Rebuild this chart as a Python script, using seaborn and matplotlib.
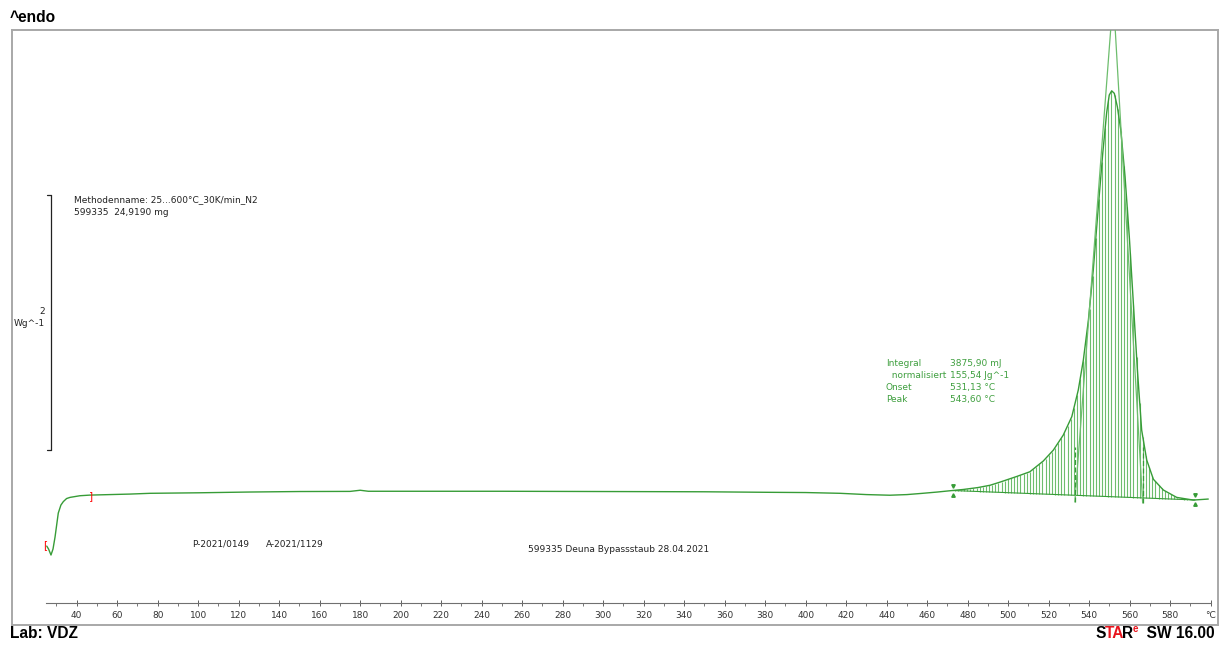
import numpy as np
import pandas as pd
import matplotlib
matplotlib.use("Agg")
import matplotlib.pyplot as plt
import seaborn as sns

# ---- DSC measurement: sample temperature (°C) vs. specific heat flow (W/g, endo up)
temperature = [25.2, 26.1, 27.3, 28.3, 29.3, 30.9, 32.2, 33.4, 35.0, 36.7,
               41.6, 46.6, 66.3, 76.2, 100.0, 125.0, 150.0, 175.0, 180.0, 184.0,
               200.0, 250.0, 300.0, 350.0, 380.0, 400.0, 417.0, 430.0, 441.5, 450.0,
               457.8, 465.0, 471.2, 477.8, 485.0, 491.0, 496.0, 504.2, 510.7, 517.3,
               522.3, 527.2, 531.4, 534.6, 537.1, 539.6, 542.0, 544.5, 546.7, 548.6,
               549.9, 551.1, 552.4, 553.9, 555.6, 557.7, 559.8, 561.8, 563.8, 565.9,
               568.4, 571.7, 576.6, 583.2, 591.4, 598.8]
heat_flow = [-0.424, -0.447, -0.494, -0.447, -0.353, -0.165, -0.102, -0.075, -0.051, -0.042,
             -0.029, -0.024, -0.016, -0.010, -0.006, 0.000, 0.004, 0.005, 0.014, 0.006,
             0.006, 0.006, 0.004, 0.002, -0.002, -0.004, -0.010, -0.020, -0.025, -0.020,
             -0.010, 0.000, 0.010, 0.020, 0.035, 0.053, 0.078, 0.122, 0.159, 0.243,
             0.329, 0.447, 0.591, 0.800, 1.035, 1.349, 1.741, 2.238, 2.659, 2.973,
             3.114, 3.147, 3.127, 3.022, 2.839, 2.473, 2.002, 1.482, 0.957, 0.486,
             0.251, 0.100, 0.016, -0.042, -0.063, -0.055]

# Peak integration limits (°C) and tangent construction (°C, W/g)
integration_limits = [472.5, 592.2]
left_tangent_T = [532.9, 551.2]
left_tangent_W = [-0.078, 3.75]
right_tangent_T = [566.4, 552.4]
right_tangent_W = [-0.086, 3.75]

# Evaluation texts
method_lines = ["Methodenname: 25...600°C_30K/min_N2", "599335  24,9190 mg"]
result_names = ["Integral", "  normalisiert", "Onset", "Peak"]
result_values = ["3875,90 mJ", "155,54 Jg^-1", "531,13 °C", "543,60 °C"]
scale_value = 2.0  # W/g

x_major = list(range(40, 601, 20))
x_minor = list(range(30, 600, 20))
x_labels = [str(t) for t in x_major[:-1]] + ["°C"]

df = pd.DataFrame({"T": temperature, "W": heat_flow})

W_PX, H_PX = 1223, 646
GREEN = "#379c37"
GREEN_LIGHT = "#6dbd6d"
TXT_GREEN = "#3f9f3f"

sns.set_theme(style="white")
plt.rcParams["font.family"] = ["DejaVu Sans"]

fig = plt.figure(figsize=(W_PX / 100, H_PX / 100), dpi=100)
fig.patch.set_facecolor("white")


def fx(x):
    return x / W_PX


def fy(y):
    return 1 - y / H_PX


pos = [fx(11.5), fy(624.5), fx(1218) - fx(11.5), fy(30) - fy(624.5)]

# outer grey frame
frame = fig.add_axes(pos, zorder=0)
frame.set_xticks([])
frame.set_yticks([])
for s in frame.spines.values():
    s.set_color("#a8a8a8")
    s.set_linewidth(1.4)

ax = fig.add_axes(pos, zorder=1)
ax.set_facecolor("none")
ax.set_xlim(7.8, 603.6)
ax.set_ylim(-1.039, 3.624)

# curve
sns.lineplot(data=df, x="T", y="W", ax=ax, color=GREEN, linewidth=1.0,
             sort=False, estimator=None)

# integration baseline and hatching
T_arr = np.asarray(temperature)
W_arr = np.asarray(heat_flow)
t0, t1 = integration_limits
b0, b1 = np.interp(t0, T_arr, W_arr), np.interp(t1, T_arr, W_arr)
ax.plot([t0, t1], [b0, b1], color=GREEN, lw=0.8)
hatch_T = np.arange(t0 + 1.0, t1, 1.55)
hatch_base = b0 + (hatch_T - t0) / (t1 - t0) * (b1 - b0)
hatch_top = np.interp(hatch_T, T_arr, W_arr)
ax.vlines(hatch_T, hatch_base, hatch_top, colors=GREEN_LIGHT, lw=0.8, zorder=1)

# tangents for onset / endset
ax.plot(left_tangent_T, left_tangent_W, color=GREEN_LIGHT, lw=0.9)
ax.plot(right_tangent_T, right_tangent_W, color=GREEN_LIGHT, lw=0.9)
ax.plot(left_tangent_T[0:1] * 2, [left_tangent_W[0], 0.35], color=GREEN, lw=0.9, ls=(0, (4, 2)))
ax.plot(right_tangent_T[0:1] * 2, [right_tangent_W[0], 0.35], color=GREEN, lw=0.9, ls=(0, (4, 2)))

# integration limit markers
for t, b in ((t0, b0), (t1, b1)):
    ax.plot([t], [b + 0.035], marker="v", ms=2.5, color=GREEN, ls="none")
    ax.plot([t], [b - 0.035], marker="^", ms=2.5, color=GREEN, ls="none")

# red range brackets
ax.text(24.6, -0.42, "[", color="red", fontsize=7.5, ha="center", va="center")
ax.text(47.1, -0.03, "]", color="red", fontsize=7.5, ha="center", va="center")

# scale bar (2 W/g)
bar_T = 27.3
ax.plot([bar_T, bar_T], [0.329, 0.329 + scale_value], color="#222222", lw=0.9)
ax.plot([25.2, bar_T], [0.329, 0.329], color="#222222", lw=0.9)
ax.plot([25.2, bar_T], [0.329 + scale_value, 0.329 + scale_value], color="#222222", lw=0.9)

# x axis drawn inside the frame
for side in ("top", "left", "right"):
    ax.spines[side].set_visible(False)
ax.spines["bottom"].set_position(("data", -0.873))
ax.spines["bottom"].set_bounds(25, 600)
ax.spines["bottom"].set_color("#707070")
ax.spines["bottom"].set_linewidth(0.8)
ax.set_xticks(x_major)
ax.set_xticklabels(x_labels)
ax.set_xticks(x_minor, minor=True)
ax.set_yticks([])
ax.tick_params(axis="x", which="major", direction="inout", length=4.5, width=0.7,
               color="#606060", labelsize=6.5, labelcolor="#333333", pad=3.5, bottom=True)
ax.tick_params(axis="x", which="minor", direction="out", length=1.8, width=0.6,
               color="#606060", bottom=True)
ax.set_xlabel("")
ax.set_ylabel("")

SMALL = 6.5
fig.text(fx(74), fy(200), method_lines[0], fontsize=SMALL, color="#222222", va="center")
fig.text(fx(74), fy(212.5), method_lines[1], fontsize=SMALL, color="#222222", va="center")
fig.text(fx(44.5), fy(311), "2", fontsize=SMALL, color="#222222", va="center", ha="right")
fig.text(fx(44.5), fy(324), "Wg^-1", fontsize=SMALL, color="#222222", va="center", ha="right")

for i, (n, v) in enumerate(zip(result_names, result_values)):
    y = 364 + i * 11.7
    fig.text(fx(886), fy(y), n, fontsize=SMALL, color=TXT_GREEN, va="center")
    fig.text(fx(950), fy(y), v, fontsize=SMALL, color=TXT_GREEN, va="center")

fig.text(fx(192), fy(544), "P-2021/0149", fontsize=SMALL, color="#222222", va="center")
fig.text(fx(266), fy(544), "A-2021/1129", fontsize=SMALL, color="#222222", va="center")
fig.text(fx(528), fy(549), "599335 Deuna Bypassstaub 28.04.2021", fontsize=SMALL,
         color="#222222", va="center")

BIG = dict(fontsize=11.2, fontweight="bold", family=["Liberation Sans", "DejaVu Sans"])
fig.text(fx(10), fy(18), "^endo", color="black", va="center", **BIG)
fig.text(fx(10), fy(634), "Lab: VDZ", color="black", va="center", **BIG)

# STARe SW 16.00 logo text, laid out piece by piece
fig.canvas.draw()
renderer = fig.canvas.get_renderer()
pieces = [("S", "black", 11.2, 634, -1.0), ("TA", "#e8141c", 11.2, 634, -2.0),
          ("R", "black", 11.2, 634, -0.5), ("e", "#e8141c", 7.0, 629.5, 0.0),
          ("  SW 16.00", "black", 11.2, 634, 0.0)]
x_cur = 1095.0
for txt, col, size, yy, kern in pieces:
    t = fig.text(fx(x_cur), fy(yy), txt, color=col, va="center", fontsize=size,
                 fontweight="bold", family=["Liberation Sans", "DejaVu Sans"])
    bb = t.get_window_extent(renderer=renderer)
    x_cur += bb.width + kern

fig.savefig("out.png", dpi=100, facecolor="white")
